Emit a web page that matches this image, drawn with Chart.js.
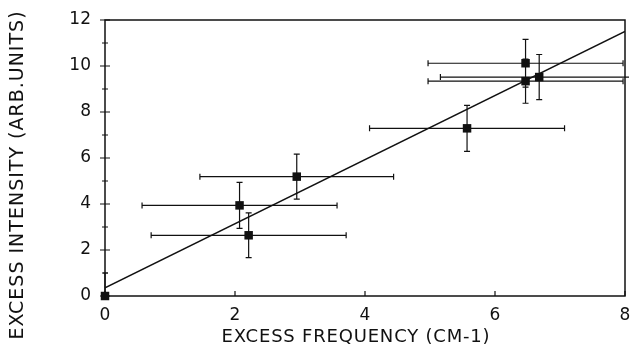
<!DOCTYPE html>
<html>
<head>
<meta charset="utf-8">
<script src="https://cdn.jsdelivr.net/npm/chart.js@4"></script>
<style>
  html, body { margin: 0; padding: 0; background: #fff; }
  #wrap { width: 632px; height: 354px; }
</style>
</head>
<body>
<div id="wrap"><canvas id="excessChart" width="632" height="354"></canvas></div>
<script>
// values
const freq = [0, 2.07, 2.21, 2.95, 5.57, 6.47, 6.47, 6.68];
const intensity = [0, 3.94, 2.64, 5.19, 7.29, 10.12, 9.34, 9.52];
const freqErr = [0, 1.5, 1.5, 1.49, 1.5, 1.5, 1.5, 1.52];
const intensityErr = [1, 1.0, 0.97, 0.98, 1.0, 1.04, 0.96, 0.98];
const fitX = [0, 8];
const fitY = [0.35, 11.5];
const xTicks = [0, 2, 4, 6, 8];
const yTicks = [0, 2, 4, 6, 8, 10, 12];
const xTitle = 'EXCESS FREQUENCY (CM-1)';
const yTitle = 'EXCESS INTENSITY (ARB.UNITS)';

const ink = '#111';
const font = 'DejaVu Sans';

// error bars, frame, inward ticks and the two axis titles
const errorBars = {
    id: 'errorBars',
    afterDatasetsDraw(chart) {
        const { ctx, chartArea: a, scales: { x, y } } = chart;
        ctx.save();
        ctx.strokeStyle = ink;
        ctx.lineWidth = 1.2;
        ctx.beginPath();
        ctx.rect(a.left - 2, a.top - 2, a.right - a.left + 6, a.bottom - a.top + 4);
        ctx.clip();
        const cap = 3;
        ctx.beginPath();
        for (let i = 0; i < freq.length; i++) {
            const px = x.getPixelForValue(freq[i]);
            const py = y.getPixelForValue(intensity[i]);
            if (freqErr[i] > 0) {
                const x0 = x.getPixelForValue(freq[i] - freqErr[i]);
                const x1 = x.getPixelForValue(freq[i] + freqErr[i]);
                ctx.moveTo(x0, py); ctx.lineTo(x1, py);
                ctx.moveTo(x0, py - cap); ctx.lineTo(x0, py + cap);
                ctx.moveTo(x1, py - cap); ctx.lineTo(x1, py + cap);
            }
            if (intensityErr[i] > 0) {
                const y0 = y.getPixelForValue(intensity[i] - intensityErr[i]);
                const y1 = y.getPixelForValue(intensity[i] + intensityErr[i]);
                ctx.moveTo(px, y0); ctx.lineTo(px, y1);
                ctx.moveTo(px - cap, y0); ctx.lineTo(px + cap, y0);
                ctx.moveTo(px - cap, y1); ctx.lineTo(px + cap, y1);
            }
        }
        ctx.stroke();
        ctx.restore();

        ctx.save();
        ctx.strokeStyle = ink;
        ctx.lineWidth = 1.5;
        ctx.strokeRect(a.left, a.top, a.right - a.left, a.bottom - a.top);
        ctx.lineWidth = 1.2;
        ctx.beginPath();
        for (let v = 0; v <= 12; v++) {
            const py = y.getPixelForValue(v);
            const len = v % 2 === 0 ? 5 : 3;
            ctx.moveTo(a.left - len, py); ctx.lineTo(a.left + len, py);
        }
        xTicks.forEach(v => {
            const px = x.getPixelForValue(v);
            ctx.moveTo(px, a.bottom); ctx.lineTo(px, a.bottom - 5);
        });
        ctx.stroke();
        ctx.restore();
    },
    afterDraw(chart) {
        const { ctx, chartArea: a } = chart;
        ctx.save();
        ctx.fillStyle = ink;
        ctx.textAlign = 'center';
        ctx.textBaseline = 'middle';
        ctx.font = '18px "' + font + '"';
        ctx.letterSpacing = '0.8px';
        ctx.fillText(xTitle, (a.left + a.right) / 2 - 9, 337);
        ctx.font = '19px "' + font + '"';
        ctx.letterSpacing = '1px';
        ctx.translate(18, 175);
        ctx.rotate(-Math.PI / 2);
        ctx.fillText(yTitle, 0, 0);
        ctx.restore();
    }
};

const ctx = document.getElementById('excessChart').getContext('2d');
const excessChart = new Chart(ctx, {
    type: 'scatter',
    data: {
        datasets: [{
            label: 'data',
            data: freq.map((f, i) => ({ x: f, y: intensity[i] })),
            pointStyle: 'rect',
            pointRadius: 6,
            backgroundColor: ink,
            borderColor: ink,
            borderWidth: 0,
            clip: false,
            order: 1
        }, {
            label: 'fit',
            type: 'line',
            data: fitX.map((f, i) => ({ x: f, y: fitY[i] })),
            borderColor: ink,
            borderWidth: 1.5,
            pointRadius: 0,
            fill: false,
            order: 2
        }]
    },
    options: {
        responsive: false,
        animation: false,
        devicePixelRatio: 1,
        layout: { padding: { left: 0, right: 7, top: 20, bottom: 0 } },
        plugins: { legend: { display: false }, tooltip: { enabled: false } },
        scales: {
            x: {
                type: 'linear',
                min: 0, max: 8,
                afterBuildTicks: s => { s.ticks = xTicks.map(v => ({ value: v })); },
                afterFit: s => { s.height = 58; },
                grid: { display: false },
                border: { display: false },
                ticks: { color: ink, font: { family: font, size: 17 }, padding: 1, maxRotation: 0 },
                title: { display: false }
            },
            y: {
                type: 'linear',
                min: 0, max: 12,
                afterBuildTicks: s => { s.ticks = yTicks.map(v => ({ value: v })); },
                afterFit: s => { s.width = 105; },
                grid: { display: false },
                border: { display: false },
                ticks: { color: ink, font: { family: font, size: 17 }, padding: 6 },
                title: { display: false }
            }
        }
    },
    plugins: [errorBars]
});
</script>
</body>
</html>
